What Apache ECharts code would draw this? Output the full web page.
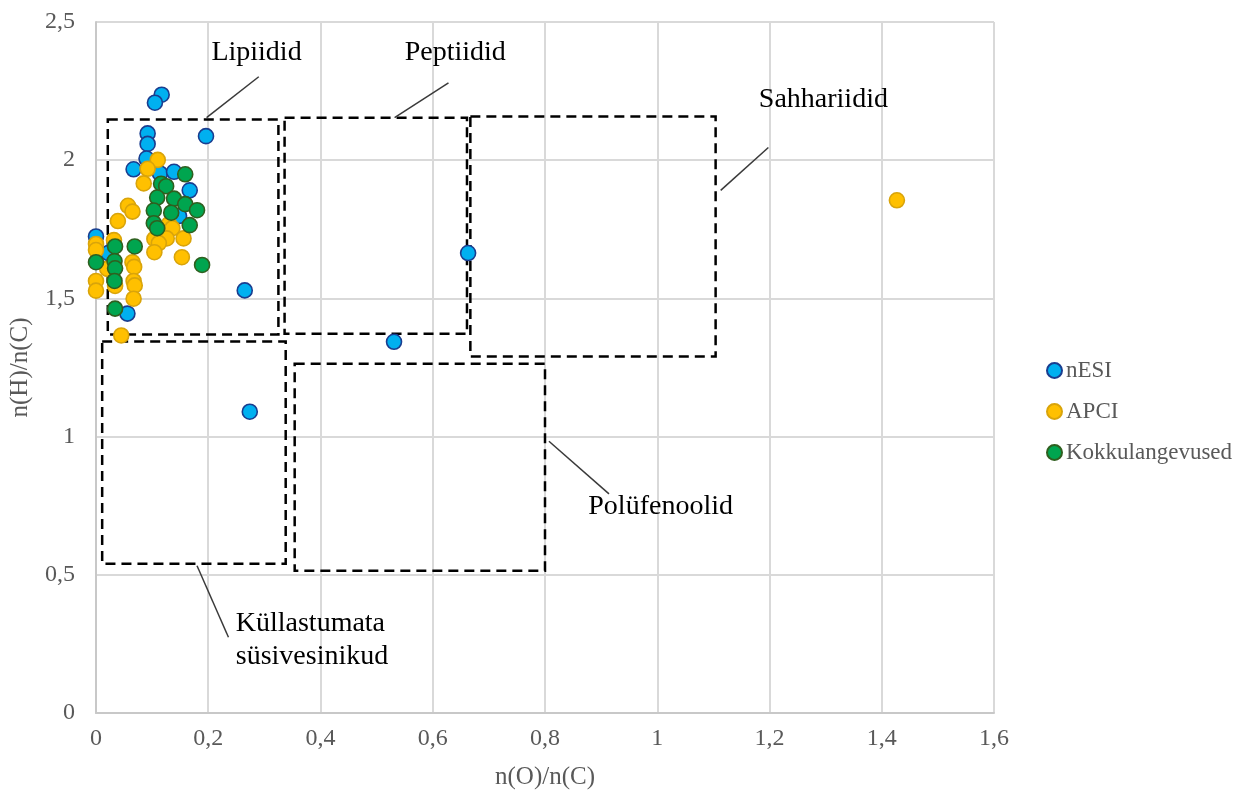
<!DOCTYPE html>
<html>
<head>
<meta charset="utf-8">
<title>Van Krevelen diagramm</title>
<script src="https://cdn.jsdelivr.net/npm/echarts@6/dist/echarts.min.js"></script>
<style>
  html, body { margin: 0; padding: 0; background: #ffffff; }
  #chart { width: 1242px; height: 795px; }
</style>
</head>
<body>
<div id="chart"></div>
<script>
// n(O)/n(C), n(H)/n(C) pairs for each ionisation method
const nESI = [
  [0.117, 2.237], [0.105, 2.208], [0.092, 2.097], [0.092, 2.059], [0.196, 2.087],
  [0.090, 2.006], [0.067, 1.967], [0.114, 1.952], [0.139, 1.958], [0.167, 1.891],
  [0.148, 1.798], [0.000, 1.724], [0.022, 1.664], [0.056, 1.445], [0.265, 1.529],
  [0.274, 1.090], [0.531, 1.343], [0.663, 1.664]
];
const APCI = [
  [0.110, 2.001], [0.092, 1.969], [0.085, 1.916], [0.057, 1.835], [0.065, 1.814],
  [0.039, 1.780], [0.130, 1.769], [0.136, 1.754], [0.104, 1.715], [0.126, 1.717],
  [0.156, 1.717], [0.112, 1.700], [0.104, 1.667], [0.153, 1.649], [0.000, 1.697],
  [0.000, 1.675], [0.000, 1.563], [0.000, 1.528], [0.032, 1.711], [0.065, 1.631],
  [0.068, 1.614], [0.020, 1.607], [0.067, 1.563], [0.069, 1.547], [0.067, 1.499],
  [0.045, 1.366], [0.034, 1.545], [1.427, 1.855]
];
const kokkulangevused = [
  [0.159, 1.949], [0.116, 1.915], [0.125, 1.906], [0.109, 1.865], [0.139, 1.861],
  [0.159, 1.841], [0.180, 1.819], [0.103, 1.818], [0.134, 1.810], [0.103, 1.772],
  [0.109, 1.754], [0.167, 1.765], [0.189, 1.621], [0.000, 1.631], [0.034, 1.688],
  [0.069, 1.688], [0.033, 1.635], [0.034, 1.609], [0.033, 1.563], [0.034, 1.463]
];

// compound class regions: [oMin, hMin, oMax, hMax]
const regionBoxes = [
  [0.021, 1.369, 0.325, 2.147],  // Lipiidid
  [0.336, 1.372, 0.661, 2.154],  // Peptiidid
  [0.667, 1.290, 1.104, 2.158],  // Sahhariidid
  [0.354, 0.515, 0.800, 1.264],  // Polüfenoolid
  [0.011, 0.540, 0.338, 1.344]   // Küllastumata süsivesinikud
];
// leader lines from each region to its caption
const leaderLines = [
  [[0.197, 2.154], [0.290, 2.302]],
  [[0.532, 2.154], [0.628, 2.280]],
  [[1.113, 1.891], [1.198, 2.046]],
  [[0.807, 0.983], [0.914, 0.793]],
  [[0.180, 0.533], [0.236, 0.274]]
];
// captions: text, o, h, alignment
const regionLabels = [
  ['Lipiidid', 0.286, 2.388, 'center'],
  ['Peptiidid', 0.640, 2.388, 'center'],
  ['Sahhariidid', 1.296, 2.219, 'center'],
  ['Polüfenoolid', 1.006, 0.746, 'center'],
  ['Küllastumata\nsüsivesinikud', 0.249, 0.263, 'left']
];

const xTicks = { min: 0, max: 1.6, interval: 0.2 };
const yTicks = { min: 0, max: 2.5, interval: 0.5 };

const FONT = '"Liberation Serif", "Times New Roman", serif';
const fmt = v => (Math.abs(v) < 1e-9 ? '0' : String(+v.toFixed(1)).replace('.', ','));

const chart = echarts.init(document.getElementById('chart'), null, { renderer: 'canvas' });

const axisCommon = {
  type: 'value',
  axisLine: { show: true, lineStyle: { color: '#c8c8c8', width: 2 } },
  axisTick: { show: false },
  splitLine: { show: true, lineStyle: { color: '#d9d9d9', width: 2 } },
  nameLocation: 'middle',
  nameTextStyle: { fontFamily: FONT, fontSize: 25, color: '#595959' },
  axisLabel: { fontFamily: FONT, fontSize: 24, color: '#595959', formatter: fmt }
};

const markerSeries = (name, data, fill, border) => ({
  name: name,
  type: 'scatter',
  data: data,
  symbol: 'circle',
  symbolSize: 15,
  itemStyle: { color: fill, borderColor: border, borderWidth: 1.6, opacity: 1 },
  emphasis: { disabled: true },
  silent: true
});

chart.setOption({
  animation: false,
  backgroundColor: '#ffffff',
  grid: { left: 94, right: 248, top: 22, bottom: 79, containLabel: false },
  xAxis: Object.assign({}, axisCommon, {
    min: xTicks.min, max: xTicks.max, interval: xTicks.interval,
    name: 'n(O)/n(C)', nameGap: 52,
    axisLabel: Object.assign({}, axisCommon.axisLabel, { margin: 14 })
  }),
  yAxis: Object.assign({}, axisCommon, {
    min: yTicks.min, max: yTicks.max, interval: yTicks.interval,
    name: 'n(H)/n(C)', nameGap: 63, nameRotate: 90,
    axisLabel: Object.assign({}, axisCommon.axisLabel, { margin: 21 })
  }),
  legend: {
    data: ['nESI', 'APCI', 'Kokkulangevused'],
    orient: 'vertical',
    left: 1041,
    top: 354,
    itemWidth: 15,
    itemHeight: 15,
    itemGap: 18,
    icon: 'circle',
    selectedMode: false,
    textStyle: { fontFamily: FONT, fontSize: 23, color: '#595959', padding: [0, 0, 0, -1] }
  },
  series: [
    {
      name: 'regions',
      type: 'scatter',
      symbolSize: 0,
      silent: true,
      z: 1,
      data: regionLabels.map(l => ({
        name: l[0],
        value: [l[1], l[2]],
        label: { align: l[3] }
      })),
      label: {
        show: true,
        position: 'inside',
        formatter: '{b}',
        fontFamily: FONT,
        fontSize: 28,
        lineHeight: 33,
        color: '#000000',
        opacity: 1,
        textBorderWidth: 0,
        verticalAlign: 'middle'
      },
      markArea: {
        silent: true,
        label: { show: false },
        itemStyle: {
          color: 'rgba(0,0,0,0)',
          borderColor: '#000000',
          borderWidth: 2.5,
          borderType: [10, 6]
        },
        emphasis: { disabled: true },
        data: regionBoxes.map(b => [{ coord: [b[0], b[3]] }, { coord: [b[2], b[1]] }])
      },
      markLine: {
        silent: true,
        symbol: ['none', 'none'],
        label: { show: false },
        lineStyle: { color: '#3a3a3a', width: 1.5, type: 'solid' },
        emphasis: { disabled: true },
        data: leaderLines.map(l => [{ coord: l[0] }, { coord: l[1] }])
      }
    },
    markerSeries('nESI', nESI, '#00b0f0', '#1a3d8f'),
    markerSeries('APCI', APCI, '#ffc000', '#d9a40a'),
    markerSeries('Kokkulangevused', kokkulangevused, '#00a54f', '#2f5f1f')
  ]
});
</script>
</body>
</html>
